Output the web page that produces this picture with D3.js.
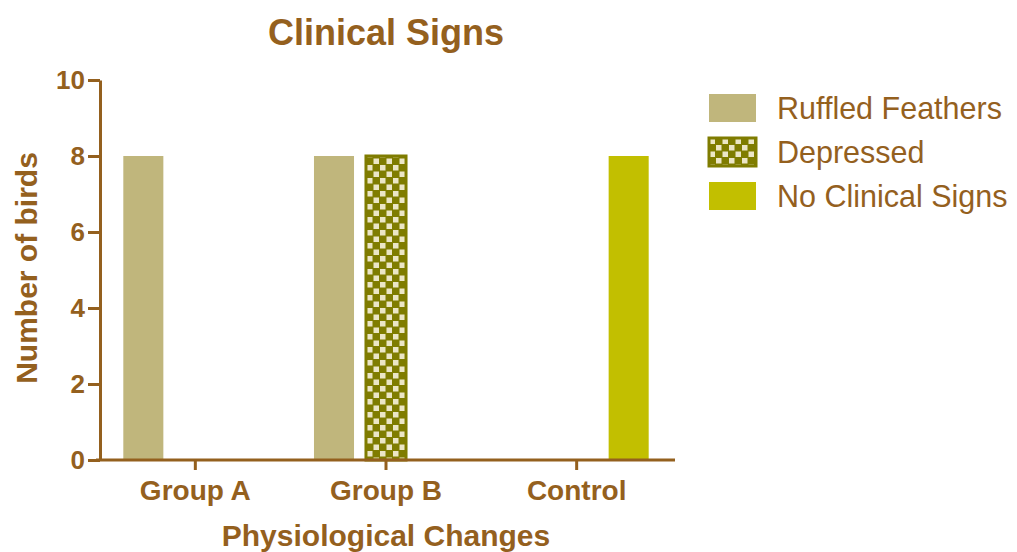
<!DOCTYPE html>
<html>
<head>
<meta charset="utf-8">
<script src="https://cdn.jsdelivr.net/npm/d3@7"></script>
<style>
  body { margin: 0; background: #fff; }
  text { font-family: "Liberation Sans", Arial, sans-serif; fill: #94601e; }
</style>
</head>
<body>
<div class="chart"></div>
<script>
// data
const groups = ["Group A", "Group B", "Control"];
const series = ["Ruffled Feathers", "Depressed", "No Clinical Signs"];
const ruffled = [8, 8, 0];
const depressed = [0, 8, 0];
const noSigns = [0, 0, 8];
const yTicks = [0, 2, 4, 6, 8, 10];

const brown = "#94601e";
const olive = "#7f7c00";
const fills = ["#c0b67c", "url(#checks)", "#c2bf00"];

let margin = { top: 80, left: 100 },
  width = 572,
  height = 380;

let svg = d3
  .select(".chart")
  .append("svg")
  .attr("width", 1017)
  .attr("height", 552);

// checker pattern for "Depressed"
let pat = svg
  .append("defs")
  .append("pattern")
  .attr("id", "checks")
  .attr("patternUnits", "userSpaceOnUse")
  .attr("width", 13)
  .attr("height", 13);
pat.append("rect").attr("width", 13).attr("height", 13).attr("fill", olive);
pat.append("rect").attr("x", 0.5).attr("y", 0.5).attr("width", 5.5).attr("height", 5.5).attr("fill", "#ece6c6");
pat.append("rect").attr("x", 7).attr("y", 7).attr("width", 5.5).attr("height", 5.5).attr("fill", "#ece6c6");

let g = svg
  .append("g")
  .attr("transform", "translate(" + margin.left + "," + margin.top + ")");

// AXIS
let x0 = d3.scaleBand().domain(groups).range([0, width]);
let x1 = d3
  .scaleBand()
  .domain(series)
  .range([-78, 78])
  .paddingInner(0.23)
  .paddingOuter(0.115);
let y = d3.scaleLinear().domain([0, 10]).range([height, 0]);

const table = [];
groups.forEach((grp, i) => {
  table.push({ group: grp, key: series[0], value: ruffled[i], s: 0 });
  table.push({ group: grp, key: series[1], value: depressed[i], s: 1 });
  table.push({ group: grp, key: series[2], value: noSigns[i], s: 2 });
});

g.selectAll(".bar")
  .data(table.filter((d) => d.value > 0))
  .enter()
  .append("rect")
  .attr("class", "bar")
  .attr("x", (d) => x0(d.group) + x0.bandwidth() / 2 + x1(d.key))
  .attr("y", (d) => y(d.value))
  .attr("width", x1.bandwidth())
  .attr("height", (d) => height - y(d.value))
  .attr("fill", (d) => fills[d.s])
  .attr("stroke", (d) => (d.s === 1 ? olive : "none"))
  .attr("stroke-width", 3);

const yAxisGroup = g
  .append("g")
  .attr("class", "axis y-axis")
  .call(d3.axisLeft(y).tickValues(yTicks).tickSize(12).tickSizeOuter(0).tickPadding(3));

const xAxisGroup = g
  .append("g")
  .attr("class", "axis x-axis")
  .attr("transform", "translate(0," + height + ")")
  .call(d3.axisBottom(x0).tickSize(10).tickSizeOuter(0).tickPadding(10));

g.selectAll(".axis path, .axis line")
  .attr("stroke", brown)
  .attr("stroke-width", 3);
xAxisGroup.select("path").attr("d", "M-4,0H575");
yAxisGroup.selectAll("text").attr("font-size", 26).attr("font-weight", "bold").attr("fill", brown);
xAxisGroup.selectAll("text").attr("font-size", 28).attr("font-weight", "bold").attr("fill", brown);

// titles
svg.append("text")
  .attr("x", 386)
  .attr("y", 45)
  .attr("text-anchor", "middle")
  .attr("font-size", 36)
  .attr("font-weight", "bold")
  .text("Clinical Signs");

svg.append("text")
  .attr("x", 386)
  .attr("y", 546)
  .attr("text-anchor", "middle")
  .attr("font-size", 30)
  .attr("font-weight", "bold")
  .text("Physiological Changes");

svg.append("text")
  .attr("transform", "translate(37,268) rotate(-90)")
  .attr("text-anchor", "middle")
  .attr("font-size", 30)
  .attr("font-weight", "bold")
  .text("Number of birds");

// legend
let legend = svg
  .selectAll(".legend")
  .data(series)
  .enter()
  .append("g")
  .attr("class", "legend")
  .attr("transform", (d, i) => "translate(709," + (94 + i * 44) + ")");

legend
  .append("rect")
  .attr("width", 47)
  .attr("height", 28)
  .attr("fill", (d, i) => fills[i])
  .attr("stroke", (d, i) => (i === 1 ? olive : "none"))
  .attr("stroke-width", 3);

legend
  .append("text")
  .attr("x", 68)
  .attr("y", 25)
  .attr("font-size", 30.5)
  .text((d) => d);
</script>
</body>
</html>
